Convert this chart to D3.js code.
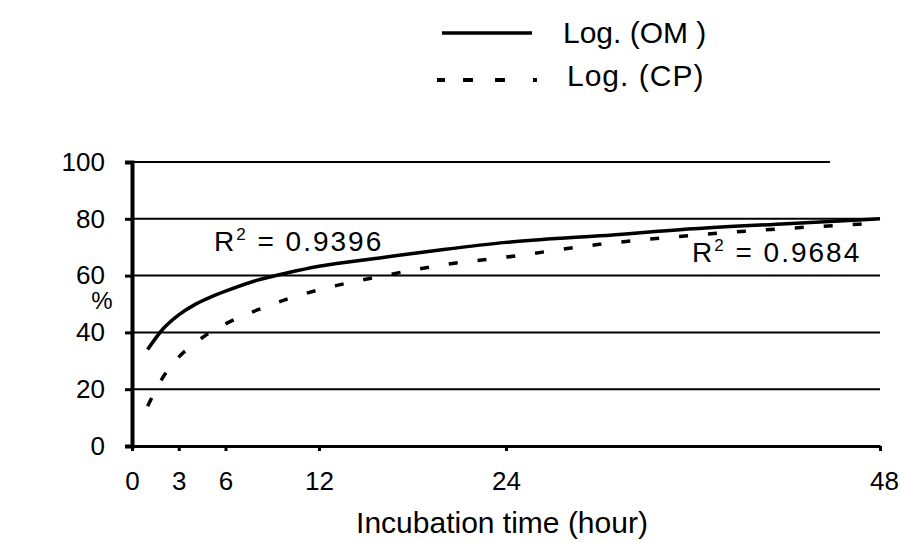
<!DOCTYPE html>
<html>
<head>
<meta charset="utf-8">
<script src="https://cdn.jsdelivr.net/npm/d3@7"></script>
<style>
  body { margin: 0; background: #fff; }
  text { font-family: "Liberation Sans", Arial, sans-serif; fill: #000; }
</style>
</head>
<body>
<script>
let width = 901;
let height = 543;

// hours
let hours = [1, 2, 3, 4, 5, 6, 8, 10, 12, 16, 20, 24, 30, 36, 42, 48];
let omValues = [34, 41.3, 46.2, 49.7, 52.3, 54.5, 58.3, 61, 63.3, 66.3, 69.2, 71.7, 74, 76.5, 78.3, 80];
let cpValues = [14, 24.3, 31.3, 36, 40, 43, 47.8, 51.8, 55, 59.8, 63.8, 66.5, 71, 74.2, 76.6, 78.5];
let xTicks = [0, 3, 6, 12, 24, 48];
let yTicks = [0, 20, 40, 60, 80, 100];
let r2Labels = [{ name: "OM", value: "0.9396" }, { name: "CP", value: "0.9684" }];

let svg = d3.select("body").append("svg")
    .attr("width", width)
    .attr("height", height);

let x = d3.scaleLinear().domain([0, 48]).range([132, 880]);
let y = d3.scaleLinear().domain([0, 100]).range([446, 162]);

// gridlines (the top one is shorter in the original)
svg.append("g").selectAll("line")
    .data(yTicks.filter(d => d > 0))
    .enter().append("line")
    .attr("x1", x(0))
    .attr("x2", d => d === 100 ? 830 : x(48))
    .attr("y1", d => y(d))
    .attr("y2", d => y(d))
    .style("stroke", "#000")
    .style("stroke-width", 2);

// y axis
let yAxis = svg.append("g")
    .attr("transform", "translate(" + x(0) + ",0)")
    .call(d3.axisLeft(y).tickValues(yTicks).tickSize(7).tickPadding(20));
yAxis.select(".domain").style("stroke-width", 4);
yAxis.selectAll(".tick line").style("stroke-width", 3);
yAxis.selectAll("text").style("font-size", "26px").style("font-family", "Liberation Sans, Arial, sans-serif");

// x axis
let xAxis = svg.append("g")
    .attr("transform", "translate(0," + y(0) + ")")
    .call(d3.axisBottom(x).tickValues(xTicks).tickSize(5).tickPadding(21).tickSizeOuter(0));
xAxis.select(".domain").style("stroke-width", 3);
xAxis.selectAll(".tick line").style("stroke-width", 3);
xAxis.selectAll("text")
    .style("font-size", "26px")
    .style("font-family", "Liberation Sans, Arial, sans-serif")
    .attr("dx", d => d === 48 ? 4 : 0);

let line = d3.line()
    .x((d, i) => x(hours[i]))
    .y(d => y(d))
    .curve(d3.curveMonotoneX);

svg.append("path")
    .attr("d", line(cpValues))
    .style("fill", "none")
    .style("stroke", "#000")
    .style("stroke-width", 3.5)
    .style("stroke-dasharray", "9,20");

svg.append("path")
    .attr("d", line(omValues))
    .style("fill", "none")
    .style("stroke", "#000")
    .style("stroke-width", 3.5);

// R² labels
let r2Pos = [[214, 251], [692, 262]];
r2Labels.forEach((d, i) => {
    let t = svg.append("text")
        .attr("x", r2Pos[i][0])
        .attr("y", r2Pos[i][1])
        .style("font-size", "28px")
        .style("letter-spacing", "2px");
    t.append("tspan").text("R");
    t.append("tspan").attr("dy", -11).style("font-size", "17px").text("2");
    t.append("tspan").attr("dy", 11).text(" = " + d.value);
});

// axis titles
svg.append("text")
    .attr("x", 102)
    .attr("y", 309)
    .attr("text-anchor", "middle")
    .style("font-size", "24px")
    .text("%");

svg.append("text")
    .attr("x", 502)
    .attr("y", 533)
    .attr("text-anchor", "middle")
    .style("font-size", "30px")
    .text("Incubation time (hour)");

// legend
let legend = svg.append("g");
legend.append("line")
    .attr("x1", 442).attr("x2", 532)
    .attr("y1", 33).attr("y2", 33)
    .style("stroke", "#000")
    .style("stroke-width", 3.5);
legend.append("text")
    .attr("x", 563).attr("y", 43)
    .style("font-size", "30px")
    .text("Log. (OM )");
legend.append("line")
    .attr("x1", 437).attr("x2", 538)
    .attr("y1", 80).attr("y2", 80)
    .style("stroke", "#000")
    .style("stroke-width", 4)
    .style("stroke-dasharray", "8,18,10,22,10,28,4,100");
legend.append("text")
    .attr("x", 567).attr("y", 86)
    .style("font-size", "30px")
    .style("letter-spacing", "1px")
    .text("Log. (CP)");
</script>
</body>
</html>
